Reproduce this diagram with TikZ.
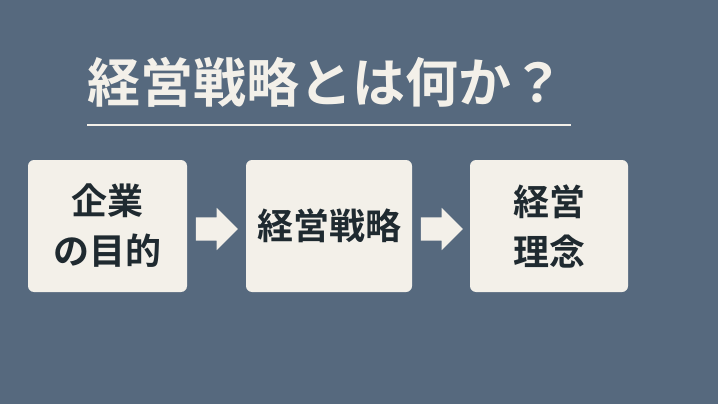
\documentclass[tikz,border=0pt]{standalone}
\usepackage{fontspec}
\newfontfamily\jpfont{Noto Sans CJK JP}[BoldFont={* Bold}]
\usepackage{tikz}
\definecolor{slate}{HTML}{56697E}
\definecolor{cream}{HTML}{F3F0E9}
\definecolor{ink}{HTML}{1F2A30}
\tikzset{
  stagebox/.style={fill=cream,rounded corners=6pt,minimum width=159pt,minimum height=132pt,
    text=ink,font=\jpfont\bfseries\fontsize{36}{50}\selectfont,align=center,inner sep=0pt},
  flowarrow/.style={fill=cream,single arrow,single arrow head extend=9.5pt,minimum height=42pt,
    inner xsep=0pt,inner ysep=11.5pt,single arrow tip angle=90}
}
\usetikzlibrary{shapes.arrows}
\begin{document}
\begin{tikzpicture}[x=1pt,y=-1pt]
                \fill[slate] (0,0) rectangle (718,404);
                \useasboundingbox (0,0) rectangle (718,404);
                \node[text=cream,anchor=west,font=\jpfont\bfseries\fontsize{53}{60}\selectfont]
                    (title) at (84,82) {経営戦略とは何か？};
                \coordinate (ruleL) at (87,125);
                \coordinate (ruleR) at (571,125);
                \draw[cream,line width=1.5pt] (ruleL) -- (ruleR);
                \node[stagebox] (purpose) at (107.5,226) {企業\\の目的};
                \node[stagebox,minimum width=166pt] (strategy) at (329,226) {経営戦略};
                \node[stagebox,minimum width=158pt] (philosophy) at (549,226) {経営\\理念};
                \node[flowarrow] (arrowA) at (211,229) {};
                \node[flowarrow] (arrowB) at (436,229) {};
            \end{tikzpicture}
\end{document}
